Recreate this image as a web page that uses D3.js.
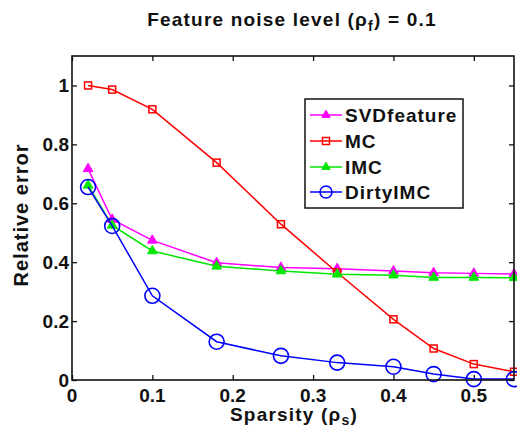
<!DOCTYPE html>
<html>
<head>
<meta charset="utf-8">
<script src="https://cdn.jsdelivr.net/npm/d3@7"></script>
<style>
  body { margin: 0; background: #fff; }
  text { font-family: "Liberation Sans", Arial, sans-serif; font-weight: bold; fill: #111; }
</style>
</head>
<body>
<svg id="chart" width="517" height="427"></svg>
<script>
const sparsity = [0.02, 0.05, 0.1, 0.18, 0.26, 0.33, 0.4, 0.45, 0.5, 0.55];
const svdfeature = [0.717, 0.545, 0.474, 0.398, 0.382, 0.378, 0.37, 0.364, 0.362, 0.36];
const mc = [1.0, 0.986, 0.919, 0.738, 0.529, 0.365, 0.206, 0.107, 0.054, 0.028];
const imc = [0.661, 0.525, 0.438, 0.386, 0.37, 0.359, 0.356, 0.348, 0.348, 0.347];
const dirtyimc = [0.655, 0.523, 0.286, 0.13, 0.082, 0.059, 0.045, 0.02, 0.003, 0.003];
const xTicks = [0, 0.1, 0.2, 0.3, 0.4, 0.5];
const yTicks = [0, 0.2, 0.4, 0.6, 0.8, 1];

const series = [
  { name: 'SVDfeature', values: svdfeature, color: '#ff00ff', marker: 'tri' },
  { name: 'MC', values: mc, color: '#ff0000', marker: 'square' },
  { name: 'IMC', values: imc, color: '#00e600', marker: 'tri' },
  { name: 'DirtyIMC', values: dirtyimc, color: '#0000ff', marker: 'circle' }
];

const svg = d3.select('#chart');
const mLeft = 72, mRight = 514, mTop = 56, mBottom = 380;

const x = d3.scaleLinear().domain([0, 0.55]).range([mLeft, mRight]);
const y = d3.scaleLinear().domain([0, 1.1]).range([mBottom, mTop]);

// ticks inside the box on all four sides
svg.append('g').attr('transform', `translate(0,${mBottom})`)
  .call(d3.axisBottom(x).tickValues(xTicks).tickSize(-5).tickFormat(''))
  .call(g => g.select('.domain').remove());
svg.append('g').attr('transform', `translate(0,${mTop})`)
  .call(d3.axisTop(x).tickValues(xTicks).tickSize(-5).tickFormat(''))
  .call(g => g.select('.domain').remove());
svg.append('g').attr('transform', `translate(${mLeft},0)`)
  .call(d3.axisLeft(y).tickValues(yTicks).tickSize(-5).tickFormat(''))
  .call(g => g.select('.domain').remove());
svg.append('g').attr('transform', `translate(${mRight},0)`)
  .call(d3.axisRight(y).tickValues(yTicks).tickSize(-5).tickFormat(''))
  .call(g => g.select('.domain').remove());
svg.selectAll('.tick line').attr('stroke', '#111').attr('stroke-width', 1.3);

// tick labels
svg.append('g').selectAll('text')
  .data(xTicks)
  .join('text')
  .attr('x', d => x(d))
  .attr('y', 402)
  .attr('text-anchor', 'middle')
  .attr('font-size', 19)
  .text(d => d3.format('')(d));

svg.append('g').selectAll('text')
  .data(yTicks)
  .join('text')
  .attr('x', 69)
  .attr('y', d => y(d) + 7)
  .attr('text-anchor', 'end')
  .attr('font-size', 19)
  .text(d => d3.format('')(d));

const plot = svg.append('g');

const line = d3.line().x(d => x(d[0])).y(d => y(d[1]));

function drawMarker(sel, s, size) {
  if (s.marker === 'square') {
    sel.append('rect')
      .attr('x', -3.5).attr('y', -3.5).attr('width', 7).attr('height', 7)
      .attr('fill', 'none').attr('stroke', s.color).attr('stroke-width', 1.5);
  } else if (s.marker === 'tri') {
    sel.append('path')
      .attr('d', d3.symbol().type(d3.symbolTriangle).size(size || 40)())
      .attr('fill', s.color).attr('stroke', s.color).attr('stroke-width', 1);
  } else {
    sel.append('circle')
      .attr('r', 7.5)
      .attr('fill', 'none').attr('stroke', s.color).attr('stroke-width', 1.6);
  }
}

series.forEach(s => {
  const pts = sparsity.map((v, i) => [v, s.values[i]]);
  plot.append('path')
    .datum(pts)
    .attr('d', line)
    .attr('fill', 'none')
    .attr('stroke', s.color)
    .attr('stroke-width', 1.5);
  plot.append('g').selectAll('g')
    .data(pts)
    .join('g')
    .attr('transform', d => `translate(${x(d[0])},${y(d[1])})`)
    .each(function() { drawMarker(d3.select(this), s); });
});

// axes box
svg.append('rect')
  .attr('x', mLeft).attr('y', mTop)
  .attr('width', mRight - mLeft).attr('height', mBottom - mTop)
  .attr('fill', 'none').attr('stroke', '#111').attr('stroke-width', 1.6);

// legend
const legend = svg.append('g');
legend.append('rect')
  .attr('x', 305).attr('y', 99).attr('width', 158).attr('height', 109)
  .attr('fill', '#fff').attr('stroke', '#111').attr('stroke-width', 1.5);
const legendY = [115, 141, 167, 192];
series.forEach((s, i) => {
  const g = legend.append('g').attr('transform', `translate(0,${legendY[i]})`);
  g.append('line').attr('x1', 310).attr('x2', 342).attr('y1', 0).attr('y2', 0)
    .attr('stroke', s.color).attr('stroke-width', 1.5);
  const m = g.append('g').attr('transform', 'translate(326,0)');
  if (s.marker === 'circle') {
    m.append('circle').attr('r', 6).attr('fill', 'none').attr('stroke', s.color).attr('stroke-width', 1.5);
  } else {
    drawMarker(m, s, 30);
  }
  g.append('text')
    .attr('x', 345).attr('y', 7)
    .attr('font-size', 19)
    .attr('letter-spacing', 1)
    .text(s.name);
});

// title
const title = svg.append('text')
  .attr('x', 292).attr('y', 26)
  .attr('text-anchor', 'middle')
  .attr('font-size', 19)
  .attr('letter-spacing', 1.2);
title.append('tspan').text('Feature noise level (ρ');
title.append('tspan').attr('font-size', 14).attr('dy', 5).text('f');
title.append('tspan').attr('dy', -5).text(') = 0.1');

// x label
const xl = svg.append('text')
  .attr('x', 294).attr('y', 421)
  .attr('text-anchor', 'middle')
  .attr('font-size', 19)
  .attr('letter-spacing', 1.2);
xl.append('tspan').text('Sparsity (ρ');
xl.append('tspan').attr('font-size', 14).attr('dy', 4).text('s');
xl.append('tspan').attr('dy', -4).text(')');

// y label
svg.append('text')
  .attr('transform', `translate(28,215) rotate(-90)`)
  .attr('text-anchor', 'middle')
  .attr('font-size', 20)
  .attr('letter-spacing', 1)
  .text('Relative error');
</script>
</body>
</html>
